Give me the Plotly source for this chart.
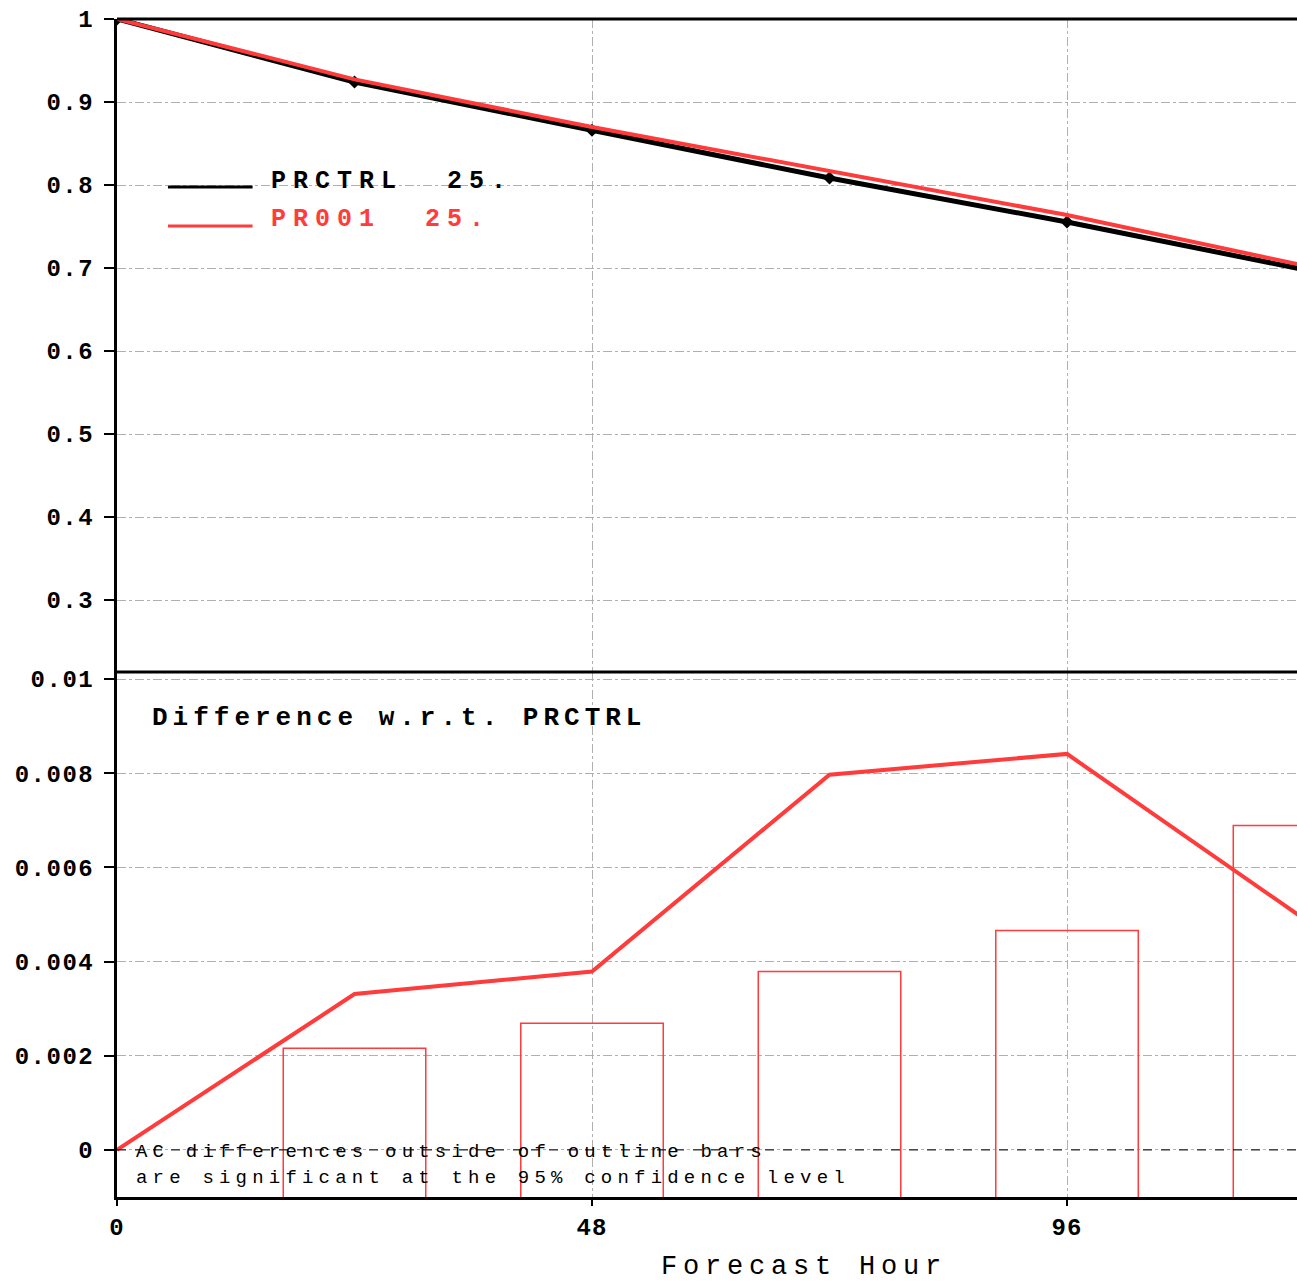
import plotly.graph_objects as go

hours = [0, 24, 48, 72, 96, 120]
prctrl = [1.0, 0.924, 0.866, 0.8084, 0.7554, 0.698]
pr001 = [1.0, 0.9273, 0.8698, 0.8164, 0.7638, 0.7029]
diff = [0.0, 0.00331, 0.00379, 0.00797, 0.00841, 0.0049]
bar_hours = [24, 48, 72, 96, 120]
sig_half = [0.00216, 0.00269, 0.00379, 0.00466, 0.00689]

top_ticks = [0.3, 0.4, 0.5, 0.6, 0.7, 0.8, 0.9, 1]
top_ticklabels = ["0.3", "0.4", "0.5", "0.6", "0.7", "0.8", "0.9", "1"]
bot_ticks = [0, 0.002, 0.004, 0.006, 0.008, 0.01]
bot_ticklabels = ["0", "0.002", "0.004", "0.006", "0.008", "0.01"]
x_ticks = [0, 48, 96]
x_ticklabels = ["0", "48", "96"]

RED = "#ff3b3b"
MONO = "Liberation Mono, DejaVu Sans Mono, monospace"


def spaced(s, px):
    return '<span style="letter-spacing:%spx">%s</span>' % (px, s)


fig = go.Figure()

fig.add_trace(go.Scatter(x=hours, y=prctrl, mode="lines+markers", line=dict(color="black", width=5),
                         marker=dict(symbol="diamond", size=10, color="black"),
                         xaxis="x", yaxis="y", showlegend=False))
fig.add_trace(go.Scatter(x=hours, y=pr001, mode="lines", line=dict(color=RED, width=4),
                         xaxis="x", yaxis="y", showlegend=False))

fig.add_trace(go.Bar(x=bar_hours, y=[2 * v for v in sig_half], base=[-v for v in sig_half],
                     width=14.4, marker=dict(color="rgba(0,0,0,0)", line=dict(color=RED, width=1.5)),
                     xaxis="x2", yaxis="y2", showlegend=False))
fig.add_trace(go.Scatter(x=hours, y=diff, mode="lines", line=dict(color=RED, width=4),
                         xaxis="x2", yaxis="y2", showlegend=False))

XR = [0, 119.24]
split = 525 / 1178
grid = dict(showgrid=True, gridcolor="#b0b0b0", griddash="dashdot", gridwidth=1)
tickfont = dict(family=MONO, size=24, color="black", weight="bold")

fig.update_layout(
    width=1297, height=1282,
    margin=dict(l=117, r=0, t=19, b=85),
    paper_bgcolor="white", plot_bgcolor="white",
    xaxis=dict(domain=[0, 1], range=XR, anchor="y", tickvals=x_ticks, showticklabels=False,
               ticks="", zeroline=False, **grid),
    yaxis=dict(domain=[split, 1], range=[0.2133, 1], tickvals=top_ticks,
               ticktext=[spaced(t, 1.5) for t in top_ticklabels],
               ticks="outside", ticklen=10, tickwidth=2, tickcolor="black", tickfont=tickfont,
               ticklabelstandoff=5,
               showline=True, linewidth=3, linecolor="black", mirror=False, zeroline=False, **grid),
    xaxis2=dict(domain=[0, 1], range=XR, anchor="y2", tickvals=x_ticks,
                ticktext=[spaced(t, 1) for t in x_ticklabels],
                ticks="outside", ticklen=6, tickwidth=2, tickcolor="black", tickfont=tickfont,
                showline=True, linewidth=3, linecolor="black", zeroline=False, **grid),
    yaxis2=dict(domain=[0, split], range=[-0.001, 0.01015], tickvals=bot_ticks,
                ticktext=[spaced(t, 1.5) for t in bot_ticklabels],
                ticks="outside", ticklen=10, tickwidth=2, tickcolor="black", tickfont=tickfont,
                ticklabelstandoff=5,
                showline=True, linewidth=3, linecolor="black", zeroline=False, **grid),
)

# frame lines: top of upper panel and panel divider
fig.add_shape(type="line", xref="x domain", yref="y domain", x0=0, x1=1, y0=1, y1=1,
              line=dict(color="black", width=3))
fig.add_shape(type="line", xref="x domain", yref="y domain", x0=0, x1=1, y0=0, y1=0,
              line=dict(color="black", width=3))
# zero line dashed
fig.add_shape(type="line", xref="x2 domain", yref="y2", x0=0, x1=1, y0=0, y1=0,
              line=dict(color="black", width=1, dash="dash"))

# legend
fig.add_shape(type="line", xref="x", yref="y", x0=5.15, x1=13.7, y0=0.7976, y1=0.7976,
              line=dict(color="black", width=3))
fig.add_shape(type="line", xref="x", yref="y", x0=5.15, x1=13.7, y0=0.7506, y1=0.7506,
              line=dict(color=RED, width=3))
fig.add_annotation(xref="x", yref="y", x=15.4, y=0.8048, xanchor="left", yanchor="middle", showarrow=False,
                   text=spaced("PRCTRL  25.", 7),
                   font=dict(family=MONO, size=25, color="black", weight="bold"))
fig.add_annotation(xref="x", yref="y", x=15.4, y=0.7590, xanchor="left", yanchor="middle", showarrow=False,
                   text=spaced("PR001  25.", 7),
                   font=dict(family=MONO, size=25, color=RED, weight="bold"))

fig.add_annotation(xref="x2", yref="y2", x=3.3, y=0.00917, xanchor="left", yanchor="middle", showarrow=False,
                   text=spaced("Difference w.r.t. PRCTRL", 5),
                   font=dict(family=MONO, size=26, color="black", weight="bold"))
fig.add_annotation(xref="x2", yref="y2", x=1.7, y=-0.00004, xanchor="left", yanchor="middle", showarrow=False,
                   text=spaced("AC differences outside of outline bars", 5.2),
                   font=dict(family=MONO, size=19, color="black"))
fig.add_annotation(xref="x2", yref="y2", x=1.7, y=-0.00059, xanchor="left", yanchor="middle", showarrow=False,
                   text=spaced("are significant at the 95% confidence level", 5.2),
                   font=dict(family=MONO, size=19, color="black"))

fig.add_annotation(xref="x2", yref="paper", x=69.4, y=-0.059, xanchor="center", yanchor="middle",
                   showarrow=False, text=spaced("Forecast Hour", 5.8),
                   font=dict(family=MONO, size=27, color="black"))

fig.write_html("out.html", config={"displayModeBar": False},
               post_script="document.body.style.margin='0';document.body.style.overflow='hidden';")
